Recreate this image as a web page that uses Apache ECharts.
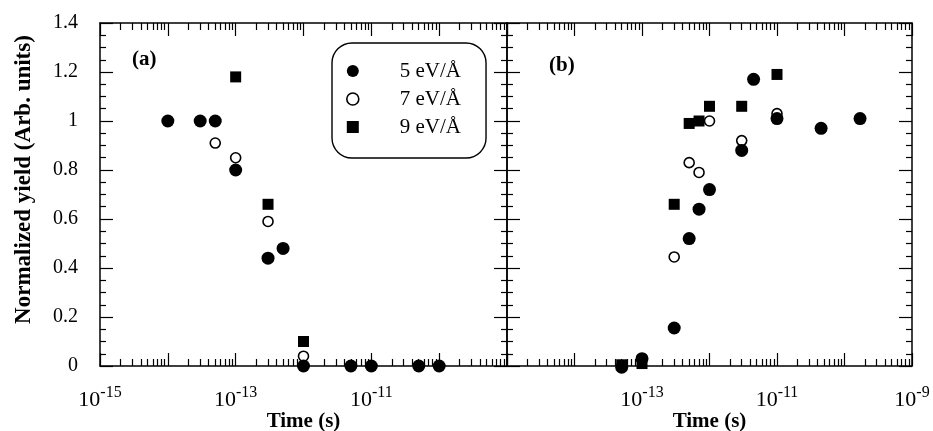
<!DOCTYPE html>
<html>
<head>
<meta charset="utf-8">
<script src="https://cdn.jsdelivr.net/npm/echarts@6/dist/echarts.min.js"></script>
<style>
  html, body { margin: 0; padding: 0; background: #fff; }
  #chart { width: 933px; height: 431px; }
</style>
</head>
<body>
<div id="chart"></div>
<script>
// Series names (field strength)
const seriesNames = ['5 eV/\u00c5', '7 eV/\u00c5', '9 eV/\u00c5'];

// Panel (a): time (s) and normalized yield
const timeA5 = [1e-14, 3e-14, 5e-14, 1e-13, 3e-13, 5e-13, 1e-12, 5e-12, 1e-11, 5e-11, 1e-10];
const yieldA5 = [1.0, 1.0, 1.0, 0.80, 0.44, 0.48, 0.0, 0.0, 0.0, 0.0, 0.0];
const timeA7 = [5e-14, 1e-13, 3e-13, 1e-12];
const yieldA7 = [0.91, 0.85, 0.59, 0.04];
const timeA9 = [1e-13, 3e-13, 1e-12];
const yieldA9 = [1.18, 0.66, 0.10];

// Panel (b): time (s) and normalized yield
const timeB5 = [5e-14, 1e-13, 3e-13, 5e-13, 7e-13, 1e-12, 3e-12, 4.5e-12, 1e-11, 4.5e-11, 1.7e-10];
const yieldB5 = [-0.005, 0.03, 0.155, 0.52, 0.64, 0.72, 0.88, 1.17, 1.01, 0.97, 1.01];
const timeB7 = [3e-13, 5e-13, 7e-13, 1e-12, 3e-12, 1e-11];
const yieldB7 = [0.445, 0.83, 0.79, 1.0, 0.92, 1.03];
const timeB9 = [5e-14, 1e-13, 3e-13, 5e-13, 7e-13, 1e-12, 3e-12, 1e-11];
const yieldB9 = [0.005, 0.01, 0.66, 0.99, 1.0, 1.06, 1.06, 1.19];

// Axis ranges and tick positions (decade exponents)
const timeMin = 1e-15, timeMax = 1e-9;
const decadeExps = [-15, -14, -13, -12, -11, -10, -9];
const labelExpsA = [-15, -13, -11];
const labelExpsB = [-13, -11, -9];
const yTickLabels = [0, 0.2, 0.4, 0.6, 0.8, 1, 1.2, 1.4];

const FONT = '"Liberation Serif", "DejaVu Serif", serif';
const INK = '#000';

// log-spaced minor ticks at 2..9 within each decade
const minorExps = [];
for (let n = -15; n < -9; n++) {
  for (let k = 2; k <= 9; k++) minorExps.push(n + Math.log10(k));
}

function pairs(xs, ys) { return xs.map((x, i) => [x, ys[i]]); }

const lineStyle = { color: INK, width: 1.5 };

// tick-only axis over the exponent range, overlaid on the log axis
function decoAxis(grid, position, values, len, labels) {
  return {
    type: 'value', gridIndex: grid, position: position,
    min: Math.log10(timeMin), max: Math.log10(timeMax),
    axisLine: { show: false },
    splitLine: { show: false },
    axisTick: { show: true, inside: true, length: len, customValues: values,
                lineStyle: { color: INK, width: 1.2 } },
    axisLabel: labels ? {
      show: true, customValues: labels, margin: 19,
      showMinLabel: true, showMaxLabel: true,
      formatter: v => '{b|10}{s|' + Math.round(v) + '}',
      rich: {
        b: { fontFamily: FONT, fontSize: 22, color: INK, verticalAlign: 'bottom', lineHeight: 26 },
        s: { fontFamily: FONT, fontSize: 16, color: INK, verticalAlign: 'top', lineHeight: 12 }
      }
    } : { show: false }
  };
}

function dataAxis(grid) {
  return {
    type: 'log', logBase: 10, gridIndex: grid, position: 'bottom',
    min: timeMin, max: timeMax,
    axisLine: { show: true, lineStyle: lineStyle },
    axisTick: { show: false }, axisLabel: { show: false }, splitLine: { show: false },
    name: 'Time (s)', nameLocation: 'middle', nameGap: 45,
    nameTextStyle: { fontFamily: FONT, fontSize: 21, fontWeight: 'bold', color: INK }
  };
}

function topAxisLine(grid) {
  return {
    type: 'value', gridIndex: grid, position: 'top',
    min: Math.log10(timeMin), max: Math.log10(timeMax),
    axisLine: { show: true, lineStyle: lineStyle },
    axisTick: { show: false }, axisLabel: { show: false }, splitLine: { show: false }
  };
}

function yAxis(grid, position, withLabels) {
  const ax = {
    type: 'value', gridIndex: grid, position: position,
    min: yTickLabels[0], max: yTickLabels[yTickLabels.length - 1], interval: 0.2,
    axisLine: { show: true, lineStyle: lineStyle },
    axisTick: { show: true, inside: true, length: 13, lineStyle: { color: INK, width: 1.2 } },
    minorTick: { show: true, splitNumber: 4, length: 6, lineStyle: { color: INK, width: 1.2 } },
    splitLine: { show: false }, minorSplitLine: { show: false },
    axisLabel: withLabels ? { show: true, margin: 22, fontFamily: FONT, fontSize: 20, color: INK } : { show: false }
  };
  if (withLabels) {
    ax.name = 'Normalized yield (Arb. units)';
    ax.nameLocation = 'middle';
    ax.nameGap = 64;
    ax.nameTextStyle = { fontFamily: FONT, fontSize: 23, fontWeight: 'bold', color: INK, padding: [0, 0, 0, 30] };
  }
  return ax;
}

const filledStyle = { color: '#000', opacity: 1 };
const openStyle = { color: '#fff', borderColor: '#000', borderWidth: 1.6, opacity: 1 };
const squareStyle = { color: '#000', opacity: 1 };

function scatter(name, xi, yi, data, symbol, size, style, z) {
  return {
    type: 'scatter', name: name, xAxisIndex: xi, yAxisIndex: yi, data: data,
    symbol: symbol, symbolSize: size, itemStyle: style, z: z, clip: false,
    emphasis: { disabled: true }, animation: false
  };
}

const option = {
  animation: false,
  backgroundColor: '#fff',
  textStyle: { fontFamily: FONT },
  grid: [
    { left: 100, top: 23, width: 407, height: 343, outerBoundsMode: 'none', containLabel: false },
    { left: 507, top: 23, width: 405, height: 343, outerBoundsMode: 'none', containLabel: false }
  ],
  title: [
    { text: '(a)', left: 127, top: 44, textStyle: { fontFamily: FONT, fontSize: 21, fontWeight: 'bold', color: INK } },
    { text: '(b)', left: 544, top: 50, textStyle: { fontFamily: FONT, fontSize: 21, fontWeight: 'bold', color: INK } }
  ],
  legend: {
    left: 332, top: 43, orient: 'vertical',
    selectedMode: false,
    borderColor: INK, borderWidth: 1.4, borderRadius: 20,
    padding: [17, 25, 20, 14],
    itemWidth: 12, itemHeight: 12, itemGap: 6,
    textStyle: { fontFamily: FONT, fontSize: 21, color: INK, lineHeight: 22, padding: [0, 0, 0, 36] },
    data: [
      { name: seriesNames[0], icon: 'circle', itemStyle: filledStyle },
      { name: seriesNames[1], icon: 'circle', itemStyle: openStyle },
      { name: seriesNames[2], icon: 'rect', itemStyle: squareStyle }
    ]
  },
  xAxis: [
    dataAxis(0),                                            // 0
    decoAxis(0, 'bottom', decadeExps, 13, labelExpsA),      // 1
    decoAxis(0, 'bottom', minorExps, 7, null),              // 2
    topAxisLine(0),                                         // 3
    decoAxis(0, 'top', decadeExps, 13, null),               // 4
    decoAxis(0, 'top', minorExps, 7, null),                 // 5
    dataAxis(1),                                            // 6
    decoAxis(1, 'bottom', decadeExps, 13, labelExpsB),      // 7
    decoAxis(1, 'bottom', minorExps, 7, null),              // 8
    topAxisLine(1),                                         // 9
    decoAxis(1, 'top', decadeExps, 13, null),               // 10
    decoAxis(1, 'top', minorExps, 7, null)                  // 11
  ],
  yAxis: [
    yAxis(0, 'left', true),
    yAxis(0, 'right', false),
    yAxis(1, 'left', false),
    yAxis(1, 'right', false)
  ],
  series: [
    scatter(seriesNames[2], 0, 0, pairs(timeA9, yieldA9), 'rect', 11, squareStyle, 2),
    scatter(seriesNames[1], 0, 0, pairs(timeA7, yieldA7), 'circle', 10, openStyle, 3),
    scatter(seriesNames[0], 0, 0, pairs(timeA5, yieldA5), 'circle', 13, filledStyle, 4),
    scatter(seriesNames[2], 6, 2, pairs(timeB9, yieldB9), 'rect', 11, squareStyle, 2),
    scatter(seriesNames[1], 6, 2, pairs(timeB7, yieldB7), 'circle', 10, openStyle, 3),
    scatter(seriesNames[0], 6, 2, pairs(timeB5, yieldB5), 'circle', 13, filledStyle, 4)
  ]
};

const chart = echarts.init(document.getElementById('chart'), null, { renderer: 'canvas' });
chart.setOption(option);
</script>
</body>
</html>
